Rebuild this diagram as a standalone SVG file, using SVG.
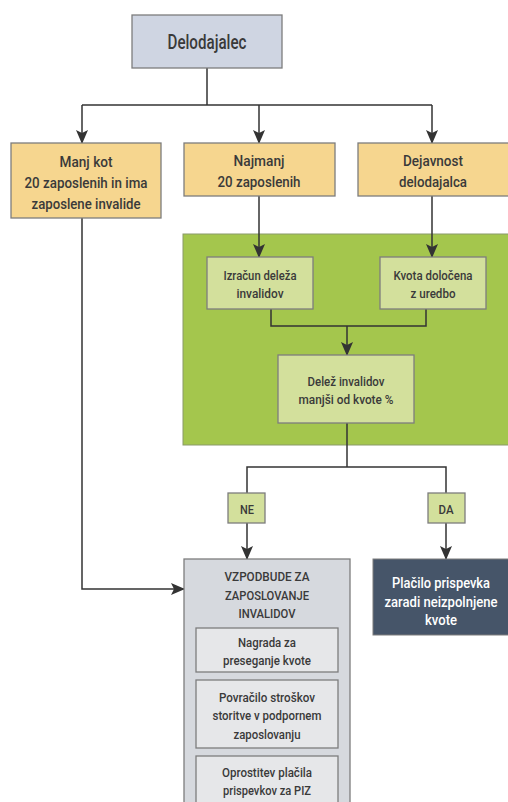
<svg xmlns="http://www.w3.org/2000/svg" width="508" height="802" viewBox="0 0 508 802">
<style>
text{font-family:Roboto,"Liberation Sans",Arial,sans-serif;font-weight:500;fill:#3a3a3a;text-anchor:middle}
.t20{font-size:20px}
.t15{font-size:15px}
.t14{font-size:14px}
.t13{font-size:13px}
.t12{font-size:12.5px}
.w{fill:#ffffff}
.box{stroke:#7d7d7d;stroke-width:1.3}
.yel{fill:#f6d68f}
.lg{fill:#d3e09c}
.gr{fill:#d6d9de}
.gr2{fill:#e6e7e9}
.conn line,.conn polyline{stroke:#333;stroke-width:1.5;fill:none}
</style>
<defs>
<marker id="ah" markerUnits="userSpaceOnUse" markerWidth="14" markerHeight="12" viewBox="0 0 14 12" refX="13" refY="6" orient="auto">
<path d="M0,0 L14,6 L0,12 L3,6 z" fill="#333"/>
</marker>
</defs>
<rect width="508" height="802" fill="#ffffff"/>
<g id="panel-green"><rect x="183" y="234" width="326" height="211" fill="#a4c64d" stroke="#8a9a6a" stroke-width="1"/></g>
<g class="conn">
<line x1="207" y1="68" x2="207" y2="105"/>
<line x1="82" y1="105" x2="432" y2="105"/>
<line x1="82" y1="105" x2="82" y2="143" marker-end="url(#ah)"/>
<line x1="259" y1="105" x2="259" y2="143" marker-end="url(#ah)"/>
<line x1="432" y1="105" x2="432" y2="143" marker-end="url(#ah)"/>
<line x1="259" y1="196" x2="259" y2="257" marker-end="url(#ah)"/>
<line x1="432" y1="196" x2="432" y2="257" marker-end="url(#ah)"/>
<polyline points="271,309 271,326 426,326 426,309"/>
<line x1="347" y1="326" x2="347" y2="355" marker-end="url(#ah)"/>
<line x1="347" y1="423" x2="347" y2="467"/>
<polyline points="247,493 247,467 446,467 446,493"/>
<line x1="247" y1="523" x2="247" y2="559" marker-end="url(#ah)"/>
<line x1="446" y1="523" x2="446" y2="559" marker-end="url(#ah)"/>
<polyline points="82,218 82,589 170,589"/>
<line x1="170" y1="589" x2="184" y2="589" marker-end="url(#ah)"/>
</g>
<g id="delodajalec"><rect class="box" x="132" y="15" width="150" height="53" fill="#cfd5e2"/>
<text class="t20" x="207" y="49" textLength="79" lengthAdjust="spacingAndGlyphs">Delodajalec</text></g>
<g id="manj-kot"><rect class="box yel" x="11" y="143" width="150" height="75"/>
<text class="t15" x="86" y="167" textLength="53" lengthAdjust="spacingAndGlyphs">Manj kot</text>
<text class="t15" x="86" y="188" textLength="123" lengthAdjust="spacingAndGlyphs">20 zaposlenih in ima</text>
<text class="t15" x="86" y="209" textLength="109" lengthAdjust="spacingAndGlyphs">zaposlene invalide</text></g>
<g id="najmanj"><rect class="box yel" x="184" y="143" width="151" height="53"/>
<text class="t15" x="259" y="166" textLength="51" lengthAdjust="spacingAndGlyphs">Najmanj</text>
<text class="t15" x="259" y="187" textLength="83" lengthAdjust="spacingAndGlyphs">20 zaposlenih</text></g>
<g id="dejavnost"><rect class="box yel" x="358" y="143" width="152" height="53"/>
<text class="t15" x="433" y="166" textLength="60" lengthAdjust="spacingAndGlyphs">Dejavnost</text>
<text class="t15" x="433" y="187" textLength="68" lengthAdjust="spacingAndGlyphs">delodajalca</text></g>
<g id="izracun"><rect class="box lg" x="207" y="257" width="106" height="52"/>
<text class="t13" x="260" y="280" textLength="73" lengthAdjust="spacingAndGlyphs">Izračun deleža</text>
<text class="t13" x="260" y="298" textLength="47" lengthAdjust="spacingAndGlyphs">invalidov</text></g>
<g id="kvota"><rect class="box lg" x="380" y="257" width="106" height="52"/>
<text class="t13" x="433" y="280" textLength="79" lengthAdjust="spacingAndGlyphs">Kvota določena</text>
<text class="t13" x="433" y="298" textLength="45" lengthAdjust="spacingAndGlyphs">z uredbo</text></g>
<g id="delez"><rect class="box lg" x="278" y="355" width="136" height="68"/>
<text class="t13" x="346" y="386" textLength="77" lengthAdjust="spacingAndGlyphs">Delež invalidov</text>
<text class="t13" x="346" y="404" textLength="95" lengthAdjust="spacingAndGlyphs">manjši od kvote %</text></g>
<g id="ne"><rect class="box lg" x="228" y="493" width="37" height="30"/>
<text class="t13" x="247" y="514" textLength="14" lengthAdjust="spacingAndGlyphs">NE</text></g>
<g id="da"><rect class="box lg" x="428" y="493" width="37" height="30"/>
<text class="t13" x="446" y="514" textLength="15" lengthAdjust="spacingAndGlyphs">DA</text></g>
<g id="vzpodbude"><rect class="box gr" x="184" y="559" width="166" height="260"/>
<text class="t12" x="267" y="581" textLength="85" lengthAdjust="spacingAndGlyphs">VZPODBUDE ZA</text>
<text class="t12" x="267" y="600" textLength="84" lengthAdjust="spacingAndGlyphs">ZAPOSLOVANJE</text>
<text class="t12" x="267" y="618" textLength="57" lengthAdjust="spacingAndGlyphs">INVALIDOV</text></g>
<g id="nagrada"><rect class="box gr2" x="196" y="628" width="142" height="44"/>
<text class="t13" x="267" y="647" textLength="58" lengthAdjust="spacingAndGlyphs">Nagrada za</text>
<text class="t13" x="267" y="665" textLength="88" lengthAdjust="spacingAndGlyphs">preseganje kvote</text></g>
<g id="povracilo"><rect class="box gr2" x="196" y="680" width="142" height="68"/>
<text class="t13" x="267" y="702" textLength="96" lengthAdjust="spacingAndGlyphs">Povračilo stroškov</text>
<text class="t13" x="267" y="720" textLength="109" lengthAdjust="spacingAndGlyphs">storitve v podpornem</text>
<text class="t13" x="267" y="739" textLength="67" lengthAdjust="spacingAndGlyphs">zaposlovanju</text></g>
<g id="oprostitev"><rect class="box gr2" x="196" y="756" width="142" height="60"/>
<text class="t13" x="267" y="777" textLength="90" lengthAdjust="spacingAndGlyphs">Oprostitev plačila</text>
<text class="t13" x="267" y="795" textLength="88" lengthAdjust="spacingAndGlyphs">prispevkov za PIZ</text></g>
<g id="placilo"><rect x="373" y="559" width="136" height="76" fill="#465569" stroke="#7d7d7d" stroke-width="1"/>
<text class="t15 w" x="441" y="588" textLength="98" lengthAdjust="spacingAndGlyphs">Plačilo prispevka</text>
<text class="t14 w" x="441" y="607" textLength="113" lengthAdjust="spacingAndGlyphs">zaradi neizpolnjene</text>
<text class="t15 w" x="441" y="625" textLength="32" lengthAdjust="spacingAndGlyphs">kvote</text></g>
</svg>
